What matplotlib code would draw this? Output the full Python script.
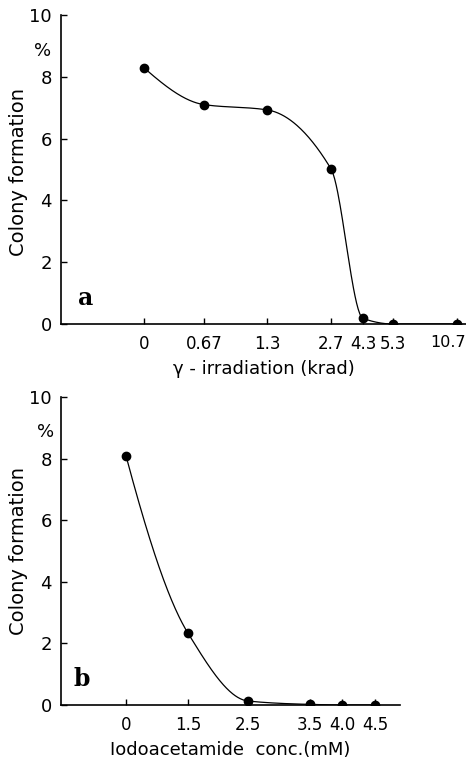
import numpy as np
import matplotlib
matplotlib.use("Agg")
import matplotlib.pyplot as plt
from matplotlib.transforms import ScaledTranslation

# ---- data ----
dose_labels = ["0", "0.67", "1.3", "2.7", "4.3", "5.3", "10.7"]
colony_a = [8.29, 7.10, 6.93, 5.02, 0.18, 0.0, 0.0]

conc_labels = ["0", "1.5", "2.5", "3.5", "4.0", "4.5"]
colony_b = [8.09, 2.33, 0.13, 0.02, 0.0, 0.0]

y_ticks = [0, 2, 4, 6, 8, 10]

# ---- layout (tick positions along axis, in axis pixel units) ----
pos_a = [83, 143, 206, 270, 302, 332, 396]
pos_b = [65, 127, 187, 249, 281, 314]

plt.rcParams['font.family'] = ['DejaVu Sans']


def pchip(x, y, xs):
    x = np.asarray(x, float); y = np.asarray(y, float)
    h = np.diff(x); d = np.diff(y) / h
    n = len(x)
    m = np.zeros(n)
    for k in range(1, n - 1):
        if d[k - 1] * d[k] <= 0:
            m[k] = 0
        else:
            w1 = 2 * h[k] + h[k - 1]; w2 = h[k] + 2 * h[k - 1]
            m[k] = (w1 + w2) / (w1 / d[k - 1] + w2 / d[k])
    def endslope(h0, h1, d0, d1):
        s = ((2 * h0 + h1) * d0 - h0 * d1) / (h0 + h1)
        if np.sign(s) != np.sign(d0):
            s = 0
        elif np.sign(d0) != np.sign(d1) and abs(s) > abs(3 * d0):
            s = 3 * d0
        return s
    m[0] = endslope(h[0], h[1], d[0], d[1])
    m[-1] = endslope(h[-1], h[-2], d[-1], d[-2])
    ys = np.empty_like(xs)
    idx = np.clip(np.searchsorted(x, xs) - 1, 0, n - 2)
    for i, xv in enumerate(xs):
        k = idx[i]; t = (xv - x[k]) / h[k]
        h00 = 2 * t**3 - 3 * t**2 + 1; h10 = t**3 - 2 * t**2 + t
        h01 = -2 * t**3 + 3 * t**2; h11 = t**3 - t**2
        ys[i] = h00 * y[k] + h10 * h[k] * m[k] + h01 * y[k + 1] + h11 * h[k] * m[k + 1]
    return ys


W, H = 466, 761
fig = plt.figure(figsize=(W / 100, H / 100), dpi=100)


def make_panel(rect, pos, vals, labels, xmax, xlabel, letter, ylab_center_y):
    ax = fig.add_axes(rect)
    xs = np.linspace(pos[0], pos[-1], 400)
    ax.plot(xs, pchip(pos, vals, xs), color='black', lw=0.9)
    ax.plot(pos, vals, 'o', color='black', ms=6)
    ax.set_xlim(0, xmax)
    ax.set_ylim(0, 10)
    ax.set_xticks(pos)
    ax.set_xticklabels(labels)
    ax.set_yticks(y_ticks)
    ax.spines['top'].set_visible(False)
    ax.spines['right'].set_visible(False)
    for s in ('left', 'bottom'):
        ax.spines[s].set_linewidth(1.2)
    ax.tick_params(axis='y', direction='in', length=4, width=1, labelsize=13, pad=6.5)
    ax.tick_params(axis='x', direction='in', length=4, width=1, labelsize=12, pad=8)
    ax.set_xlabel(xlabel, fontsize=13, labelpad=5)
    fig.text(19 / W, 1 - ylab_center_y / H, "Colony formation", rotation=90,
             fontsize=14, ha='center', va='center')
    ax.text(-0.045, 0.885, "%", transform=ax.transAxes, fontsize=13,
            ha='center', va='center')
    ax.text(0.062, 0.085, letter, transform=ax.transAxes, fontsize=17,
            fontweight='bold', family='DejaVu Serif', ha='center', va='center')
    for sp in ax.spines.values():
        sp.set_clip_on(False)
    return ax


left = 61 / W
# panel a
ax_a = make_panel([left, 1 - 324 / H, (466 - 61) / W, (324 - 15) / H],
                  pos_a, colony_a, dose_labels, 405,
                  "γ - irradiation (krad)", "a", 172)
last = ax_a.get_xticklabels()[-1]
last.set_transform(last.get_transform() + ScaledTranslation(-0.09, 0, fig.dpi_scale_trans))
last.set_fontsize(11.5)

# panel b
make_panel([left, 1 - 705 / H, (400 - 61) / W, (705 - 397) / H],
           pos_b, colony_b, conc_labels, 339,
           "Iodoacetamide  conc.(mM)", "b", 551)

fig.savefig("out.png", dpi=100)
